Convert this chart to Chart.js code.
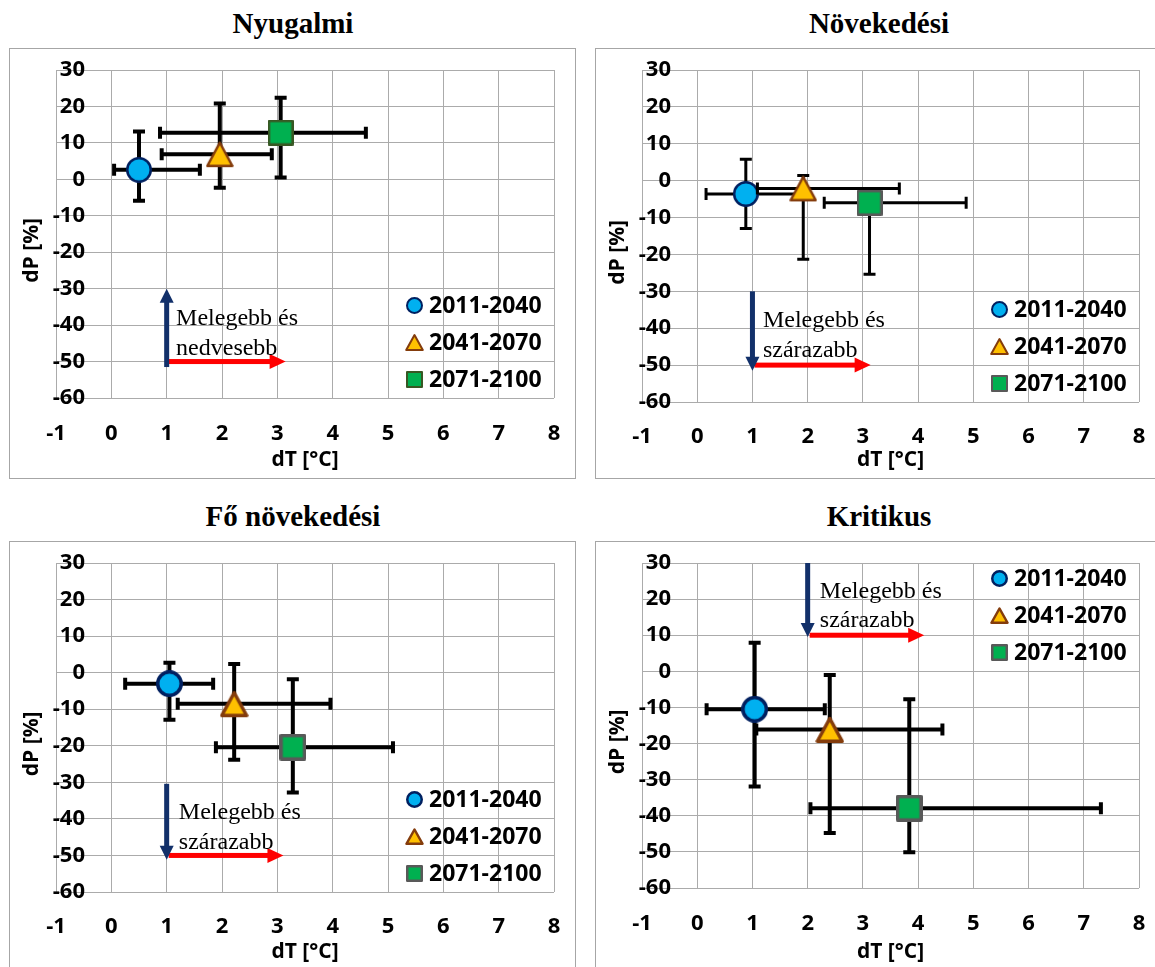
<!DOCTYPE html>
<html>
<head>
<meta charset="utf-8">
<script src="https://cdn.jsdelivr.net/npm/chart.js@4/dist/chart.umd.min.js"></script>
<style>
  html, body { margin: 0; padding: 0; background: #fff; }
  body { width: 1155px; height: 967px; position: relative; overflow: hidden; }
  .title { position: absolute; width: 400px; margin-left: -200px; text-align: center;
           font: bold 29px 'Liberation Serif', 'Times New Roman', serif; line-height: 29px; color: #000; }
  .box { position: absolute; border: 1px solid #a6a6a6; box-sizing: border-box; }
  .box canvas { position: absolute; left: -1px; top: -1px; }
</style>
</head>
<body>
<script>
// data
const periods = ['2011-2040', '2041-2070', '2071-2100'];
const panelTitles = ['Nyugalmi', 'Növekedési', 'Fő növekedési', 'Kritikus'];
const xTickValues = [-1, 0, 1, 2, 3, 4, 5, 6, 7, 8];
const yTickValues = [30, 20, 10, 0, -10, -20, -30, -40, -50, -60];

// Nyugalmi
const nyugalmiDT = [0.5, 1.96, 3.06];
const nyugalmiDTLow = [0.05, 0.91, 0.88];
const nyugalmiDTHigh = [1.6, 2.9, 4.6];
const nyugalmiDP = [2.6, 6.9, 12.8];
const nyugalmiDPLow = [-5.9, -2.3, 0.5];
const nyugalmiDPHigh = [13.1, 20.8, 22.4];

// Növekedési
const novekedesiDT = [0.88, 1.92, 3.12];
const novekedesiDTLow = [0.16, 1.09, 2.3];
const novekedesiDTHigh = [1.85, 3.66, 4.87];
const novekedesiDP = [-3.6, -2.1, -6.0];
const novekedesiDPLow = [-13.0, -21.3, -25.4];
const novekedesiDPHigh = [5.8, 1.4, -4.0];

// Fő növekedési
const foNovekedesiDT = [1.05, 2.22, 3.28];
const foNovekedesiDTLow = [0.25, 1.2, 1.89];
const foNovekedesiDTHigh = [1.84, 3.96, 5.09];
const foNovekedesiDP = [-3.0, -8.5, -20.4];
const foNovekedesiDPLow = [-12.9, -23.8, -32.8];
const foNovekedesiDPHigh = [2.7, 2.4, -1.8];

// Kritikus
const kritikusDT = [1.04, 2.4, 3.84];
const kritikusDTLow = [0.17, 1.07, 2.05];
const kritikusDTHigh = [2.31, 4.44, 7.31];
const kritikusDP = [-10.5, -16.1, -37.9];
const kritikusDPLow = [-31.9, -44.8, -50.1];
const kritikusDPHigh = [7.9, -1.0, -7.7];

const wetterNote = ['Melegebb és', 'nedvesebb'];
const drierNote = ['Melegebb és', 'szárazabb'];

//style
const sans = "'Open Sans', 'Liberation Sans', sans-serif";
const serif = "'Liberation Serif', 'Times New Roman', serif";
const gridColor = '#ababab';
const navy = '#002060';
const tickFont = {family: sans, size: 22, weight: 'bold'};

// widest y label, so that right-aligned labels end at the same place as in the original
const measureCtx = document.createElement('canvas').getContext('2d');
measureCtx.font = 'bold 22px ' + sans;
const widestY = Math.max(...yTickValues.map(v => measureCtx.measureText(String(v)).width));

function makeMarker(shape, size, fill, edge, lw) {
    const c = document.createElement('canvas');
    c.width = c.height = size;
    const g = c.getContext('2d');
    const m = lw / 2;
    g.beginPath();
    if (shape === 'circle') {
        g.arc(size / 2, size / 2, size / 2 - m, 0, Math.PI * 2);
    } else if (shape === 'triangle') {
        g.moveTo(size / 2, lw);
        g.lineTo(size - lw * 0.6, size - m - 1);
        g.lineTo(lw * 0.6, size - m - 1);
        g.closePath();
    } else {
        g.rect(m, m, size - lw, size - lw);
    }
    g.fillStyle = fill;
    g.fill();
    g.lineWidth = lw;
    g.lineJoin = 'round';
    g.strokeStyle = edge;
    g.stroke();
    return c;
}

function markerSet(size, lw, squareEdge) {
    return [
        makeMarker('circle', size, '#00b0f0', navy, lw),
        makeMarker('triangle', size + 2, '#ffc000', '#843c0c', lw),
        makeMarker('rect', size, '#00b050', squareEdge, lw)
    ];
}

const panels = [
    {
        left: 9, top: 48, w: 567, h: 431, plotRight: 545, plotBottom: 350, tickMid: 386, titleMid: 412,
        dt: nyugalmiDT, dtLow: nyugalmiDTLow, dtHigh: nyugalmiDTHigh,
        dp: nyugalmiDP, dpLow: nyugalmiDPLow, dpHigh: nyugalmiDPHigh,
        markers: markerSet(26, 2.5, '#385723'), legendMarkers: markerSet(17, 2, '#385723'),
        bar: 4, legendAt: 'bottom',
        note: { lines: wetterNote, x: 1.17, y: [-40, -48.2], blue: [1, -51.5, 1, -30], red: [1, -50, 3.15, -50] }
    },
    {
        left: 595, top: 48, w: 562, h: 431, plotRight: 544, plotBottom: 354, tickMid: 388.7, titleMid: 412,
        dt: novekedesiDT, dtLow: novekedesiDTLow, dtHigh: novekedesiDTHigh,
        dp: novekedesiDP, dpLow: novekedesiDPLow, dpHigh: novekedesiDPHigh,
        markers: markerSet(26, 2.5, '#595959'), legendMarkers: markerSet(17, 2, '#595959'),
        bar: 3, legendAt: 'bottom',
        note: { lines: drierNote, x: 1.19, y: [-39.6, -47.8], blue: [1, -30, 1, -51.5], red: [1, -50, 3.14, -50] }
    },
    {
        left: 9, top: 541, w: 567, h: 430, plotRight: 545, plotBottom: 351, tickMid: 385.7, titleMid: 410.7,
        dt: foNovekedesiDT, dtLow: foNovekedesiDTLow, dtHigh: foNovekedesiDTHigh,
        dp: foNovekedesiDP, dpLow: foNovekedesiDPLow, dpHigh: foNovekedesiDPHigh,
        markers: markerSet(27, 3.5, '#595959'), legendMarkers: markerSet(17, 2.5, '#595959'),
        bar: 4, legendAt: 'bottom',
        note: { lines: drierNote, x: 1.22, y: [-40, -48.2], blue: [1, -30.4, 1, -51.2], red: [1, -50, 3.11, -50] }
    },
    {
        left: 595, top: 541, w: 562, h: 430, plotRight: 544, plotBottom: 347, tickMid: 382.3, titleMid: 410.7,
        dt: kritikusDT, dtLow: kritikusDTLow, dtHigh: kritikusDTHigh,
        dp: kritikusDP, dpLow: kritikusDPLow, dpHigh: kritikusDPHigh,
        markers: markerSet(27, 3.5, '#595959'), legendMarkers: markerSet(17, 2.5, '#595959'),
        bar: 4, legendAt: 'top',
        note: { lines: drierNote, x: 2.22, y: [20.2, 12.3], blue: [2, 30, 2, 9.5], red: [2, 10, 4.11, 10] }
    }
];

//plugin - error bars, drawn under each series' marker
const errorBars = {
    id: 'errorBars',
    beforeDatasetDraw(chart, args) {
        const ds = chart.data.datasets[args.index];
        const e = ds.errors;
        const xs = chart.scales.x, ys = chart.scales.y;
        const ctx = chart.ctx;
        const cap = 6;
        const x = xs.getPixelForValue(ds.data[0].x);
        const y = ys.getPixelForValue(ds.data[0].y);
        const x0 = xs.getPixelForValue(e.xLow), x1 = xs.getPixelForValue(e.xHigh);
        const y0 = ys.getPixelForValue(e.yLow), y1 = ys.getPixelForValue(e.yHigh);
        ctx.save();
        ctx.strokeStyle = '#000';
        ctx.lineWidth = ds.barWidth;
        ctx.beginPath();
        ctx.moveTo(x0, y); ctx.lineTo(x1, y);
        ctx.moveTo(x0, y - cap); ctx.lineTo(x0, y + cap);
        ctx.moveTo(x1, y - cap); ctx.lineTo(x1, y + cap);
        ctx.moveTo(x, y0); ctx.lineTo(x, y1);
        ctx.moveTo(x - cap, y0); ctx.lineTo(x + cap, y0);
        ctx.moveTo(x - cap, y1); ctx.lineTo(x + cap, y1);
        ctx.stroke();
        ctx.restore();
    }
};

function arrow(ctx, x0, y0, x1, y1, color, shaft, headLen, headW) {
    const ang = Math.atan2(y1 - y0, x1 - x0);
    const len = Math.hypot(x1 - x0, y1 - y0);
    ctx.save();
    ctx.translate(x0, y0);
    ctx.rotate(ang);
    ctx.fillStyle = color;
    ctx.fillRect(0, -shaft / 2, len - headLen + 1, shaft);
    ctx.beginPath();
    ctx.moveTo(len, 0);
    ctx.lineTo(len - headLen, -headW / 2);
    ctx.lineTo(len - headLen, headW / 2);
    ctx.closePath();
    ctx.fill();
    ctx.restore();
}

//plugin - arrows and note text
const noteArrows = {
    id: 'noteArrows',
    afterDraw(chart, args, opts) {
        const n = opts.note;
        const xs = chart.scales.x, ys = chart.scales.y;
        const ctx = chart.ctx;
        const px = v => xs.getPixelForValue(v), py = v => ys.getPixelForValue(v);
        arrow(ctx, px(n.red[0]) + 2, py(n.red[1]), px(n.red[2]), py(n.red[3]), '#ff0000', 5, 16, 15);
        arrow(ctx, px(n.blue[0]), py(n.blue[1]), px(n.blue[2]), py(n.blue[3]), '#12306a', 5, 14, 14);
        ctx.save();
        ctx.fillStyle = '#000';
        ctx.font = '24px ' + serif;
        ctx.textAlign = 'left';
        ctx.textBaseline = 'alphabetic';
        n.lines.forEach((t, i) => ctx.fillText(t, px(n.x), py(n.y[i])));
        ctx.restore();
    }
};

//plugin - legend inside the plot
const insideLegend = {
    id: 'insideLegend',
    afterDraw(chart, args, opts) {
        const {ctx, chartArea} = chart;
        ctx.save();
        ctx.font = 'bold 23px ' + sans;
        ctx.fillStyle = '#000';
        ctx.textAlign = 'left';
        ctx.textBaseline = 'middle';
        chart.data.datasets.forEach((ds, i) => {
            const y = opts.at === 'top'
                ? chartArea.top + 15.6 + 37 * i
                : chartArea.bottom - 18.5 - 37 * (2 - i);
            const m = opts.markers[i];
            const mx = chartArea.right - 140;
            ctx.drawImage(m, Math.round(mx - m.width / 2), Math.round(y - m.height / 2));
            ctx.fillText(ds.label, chartArea.right - 125, y + 1);
        });
        ctx.restore();
    }
};

panels.forEach((p, k) => {
    const title = document.createElement('div');
    title.className = 'title';
    title.style.left = (p.left + 284) + 'px';
    title.style.top = (p.top - 39.3) + 'px';
    title.textContent = panelTitles[k];
    document.body.appendChild(title);

    const box = document.createElement('div');
    box.className = 'box';
    box.style.left = p.left + 'px';
    box.style.top = p.top + 'px';
    box.style.width = p.w + 'px';
    box.style.height = p.h + 'px';
    const canvas = document.createElement('canvas');
    canvas.width = p.w;
    canvas.height = p.h;
    box.appendChild(canvas);
    document.body.appendChild(box);

    new Chart(canvas.getContext('2d'), {
        type: 'scatter',
        data: {
            datasets: periods.map((label, i) => ({
                label: label,
                data: [{x: p.dt[i], y: p.dp[i]}],
                errors: {xLow: p.dtLow[i], xHigh: p.dtHigh[i], yLow: p.dpLow[i], yHigh: p.dpHigh[i]},
                barWidth: p.bar,
                pointStyle: p.markers[i],
                pointRadius: 13,
                pointHoverRadius: 13,
                order: 3 - i
            }))
        },
        options: {
            responsive: false,
            animation: false,
            events: [],
            layout: {
                padding: {left: 0, top: 22, right: p.w - p.plotRight, bottom: p.h - p.titleMid - 12.6}
            },
            plugins: {
                legend: {display: false},
                tooltip: {enabled: false},
                insideLegend: {at: p.legendAt, markers: p.legendMarkers},
                noteArrows: {note: p.note}
            },
            scales: {
                x: {
                    type: 'linear',
                    min: -1,
                    max: 8,
                    afterBuildTicks: s => { s.ticks = xTickValues.map(v => ({value: v})); },
                    afterFit: s => { s.height = p.titleMid + 12.6 - p.plotBottom; },
                    grid: {
                        color: gridColor,
                        lineWidth: 1,
                        drawTicks: true,
                        tickLength: p.tickMid - p.plotBottom - 13.2,
                        tickColor: 'rgba(0,0,0,0)'
                    },
                    border: {display: false},
                    ticks: {
                        autoSkip: false,
                        maxRotation: 0,
                        padding: 0,
                        color: '#000',
                        font: tickFont
                    },
                    title: {
                        display: true,
                        text: 'dT [°C]',
                        color: '#000',
                        padding: 0,
                        font: {family: sans, size: 21, weight: 'bold'}
                    }
                },
                y: {
                    type: 'linear',
                    min: -60,
                    max: 30,
                    afterBuildTicks: s => { s.ticks = yTickValues.map(v => ({value: v})); },
                    afterFit: s => { s.width = 47; },
                    grid: {color: gridColor, lineWidth: 1, drawTicks: false},
                    border: {display: false},
                    ticks: {
                        autoSkip: false,
                        mirror: true,
                        crossAlign: 'far',
                        padding: 29 - widestY,
                        color: '#000',
                        font: tickFont
                    },
                    title: {
                        display: true,
                        text: 'dP [%]      ',
                        color: '#000',
                        padding: {top: 10, bottom: 0},
                        font: {family: sans, size: 21, weight: 'bold'}
                    }
                }
            }
        },
        plugins: [errorBars, noteArrows, insideLegend]
    });
});
</script>
</body>
</html>
